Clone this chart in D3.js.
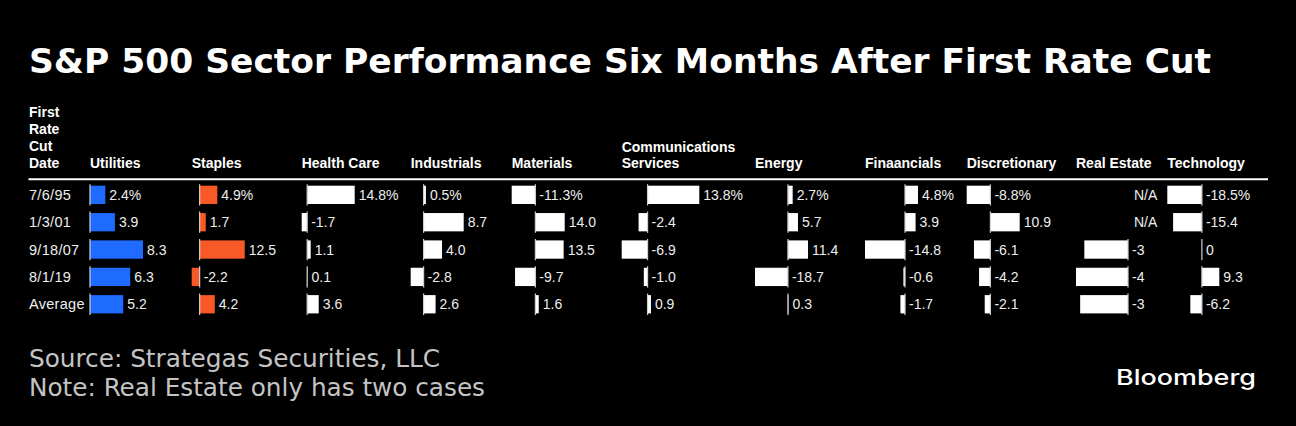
<!DOCTYPE html>
<html>
<head>
<meta charset="utf-8">
<script src="https://cdn.jsdelivr.net/npm/d3@7"></script>
<style>
  body { margin: 0; padding: 0; background: #000; }
  svg { display: block; }
</style>
</head>
<body>
<div id="chart"></div>
<script>
// ~~~~~ data ~~~~~
var dates = ["7/6/95", "1/3/01", "9/18/07", "8/1/19", "Average"];
var sectors = ["Utilities", "Staples", "Health Care", "Industrials", "Materials",
               "Communications Services", "Energy", "Finaancials", "Discretionary",
               "Real Estate", "Technology"];

var utilities     = [2.4, 3.9, 8.3, 6.3, 5.2];
var staples       = [4.9, 1.7, 12.5, -2.2, 4.2];
var healthCare    = [14.8, -1.7, 1.1, 0.1, 3.6];
var industrials   = [0.5, 8.7, 4.0, -2.8, 2.6];
var materials     = [-11.3, 14.0, 13.5, -9.7, 1.6];
var communications = [13.8, -2.4, -6.9, -1.0, 0.9];
var energy        = [2.7, 5.7, 11.4, -18.7, 0.3];
var financials    = [4.8, 3.9, -14.8, -0.6, -1.7];
var discretionary = [-8.8, 10.9, -6.1, -4.2, -2.1];
var realEstate    = [null, null, -3.36, -4.0, -3.68];   // bar lengths (labels are rounded)
var realEstateLabels = ["N/A", "N/A", "-3", "-4", "-3"];
var technology    = [-18.5, -15.4, 0, 9.3, -6.2];

var series = [utilities, staples, healthCare, industrials, materials, communications,
              energy, financials, discretionary, realEstate, technology];

// ~~~~~ layout ~~~~~
var W = 1296, H = 426;
var colX = [90, 191.7, 301.7, 410.7, 511.7, 621.7, 755, 865, 966.7, 1076, 1167.3]; // column left edges
var barW = [53, 53, 53, 53, 53, 77.6, 53, 53, 53, 52, 52];  // bar span for each column
var rowTop = 185.7, rowStep = 27.35, barH = 18.3;
var fillFor = function(i) { return i === 0 ? "#1f6bff" : i === 1 ? "#f75a26" : "#ffffff"; };
var tableFont = "'Liberation Sans', Arial, Helvetica, sans-serif";

var svg = d3.select("#chart").append("svg")
  .attr("width", W)
  .attr("height", H)
  .style("background", "#000");

// title
svg.append("text")
  .attr("x", 29).attr("y", 72.5)
  .attr("fill", "#fff")
  .style("font-family", "'DejaVu Sans', sans-serif")
  .style("font-weight", "bold")
  .style("font-size", "33px")
  .attr("textLength", 1182).attr("lengthAdjust", "spacingAndGlyphs")
  .text("S&P 500 Sector Performance Six Months After First Rate Cut");

// header: first column
var dateHead = ["First", "Rate", "Cut", "Date"];
svg.append("g").selectAll("text")
  .data(dateHead).enter().append("text")
  .attr("x", 29)
  .attr("y", function(d, i) { return 116.8 + i * 17; })
  .attr("fill", "#fff")
  .style("font-family", tableFont).style("font-weight", "bold").style("font-size", "14px")
  .text(function(d) { return d; });

// header: sectors (Communications Services wraps)
sectors.forEach(function(name, i) {
  var lines = name === "Communications Services" ? ["Communications", "Services"] : [name];
  lines.forEach(function(l, j) {
    svg.append("text")
      .attr("x", colX[i])
      .attr("y", 167.7 - (lines.length - 1 - j) * 16)
      .attr("fill", "#fff")
      .style("font-family", tableFont).style("font-weight", "bold").style("font-size", "14px")
      .text(l);
  });
});

// header rule
svg.append("line")
  .attr("x1", 28.5).attr("x2", 1268)
  .attr("y1", 179.3).attr("y2", 179.3)
  .attr("stroke", "#fff").attr("stroke-width", 2);

// row labels
var y = d3.scaleBand().domain(dates).range([rowTop, rowTop + rowStep * dates.length]).paddingInner(0);
svg.append("g").selectAll("text")
  .data(dates).enter().append("text")
  .attr("x", 29)
  .attr("y", function(d) { return y(d) + barH / 2 + 5; })
  .attr("fill", "#eee")
  .style("font-family", tableFont).style("font-size", "14.5px")
  .style("letter-spacing", "0.3px")
  .text(function(d) { return d; });

var fmt = function(v) { return d3.format(".1f")(v).replace("\u2212", "-"); };

// one column per sector, each with its own scale
series.forEach(function(vals, i) {
  var nums = vals.filter(function(v) { return v !== null; });
  var lo = Math.min(0, d3.min(nums)), hi = Math.max(0, d3.max(nums));
  var x = d3.scaleLinear().domain([lo, hi]).range([colX[i], colX[i] + barW[i]]);
  var g = svg.append("g");

  vals.forEach(function(v, r) {
    var top = y(dates[r]);
    var label;
    if (i === 9) label = realEstateLabels[r];
    else label = v === 0 ? "0" : fmt(v);
    if (r === 0 && v !== null) label += "%";

    if (v !== null) {
      g.append("rect")
        .attr("x", x(Math.min(0, v)))
        .attr("y", top)
        .attr("width", Math.abs(x(v) - x(0)))
        .attr("height", barH)
        .attr("fill", fillFor(i));
      g.append("line")
        .attr("x1", x(0)).attr("x2", x(0))
        .attr("y1", top - 1.5).attr("y2", top + barH + 1.5)
        .attr("stroke", "#d0d0d0").attr("stroke-width", 1.2);
    }
    var lx = v === null ? x(0) + 6 : Math.max(x(0), x(v)) + 4;
    g.append("text")
      .attr("x", lx)
      .attr("y", top + barH / 2 + 5)
      .attr("fill", "#eee")
      .style("font-family", tableFont).style("font-size", "14px")
      .text(label);
  });
});

// footer
var foot = ["Source: Strategas Securities, LLC", "Note: Real Estate only has two cases"];
var footLen = [411, 456];
svg.append("g").selectAll("text")
  .data(foot).enter().append("text")
  .attr("x", 29)
  .attr("y", function(d, i) { return 366.7 + i * 29.3; })
  .attr("fill", "#c4c4c4")
  .style("font-family", "'DejaVu Sans Condensed', 'DejaVu Sans', sans-serif")
  .style("font-stretch", "condensed")
  .style("font-size", "25px")
  .attr("textLength", function(d, i) { return footLen[i]; })
  .attr("lengthAdjust", "spacingAndGlyphs")
  .text(function(d) { return d; });

svg.append("text")
  .attr("x", 1116).attr("y", 384.5)
  .attr("fill", "#fff")
  .style("font-family", "Inter, Roboto, sans-serif")
  .style("font-weight", "500")
  .style("font-size", "21px")
  .attr("textLength", 140).attr("lengthAdjust", "spacingAndGlyphs")
  .text("Bloomberg");
</script>
</body>
</html>
